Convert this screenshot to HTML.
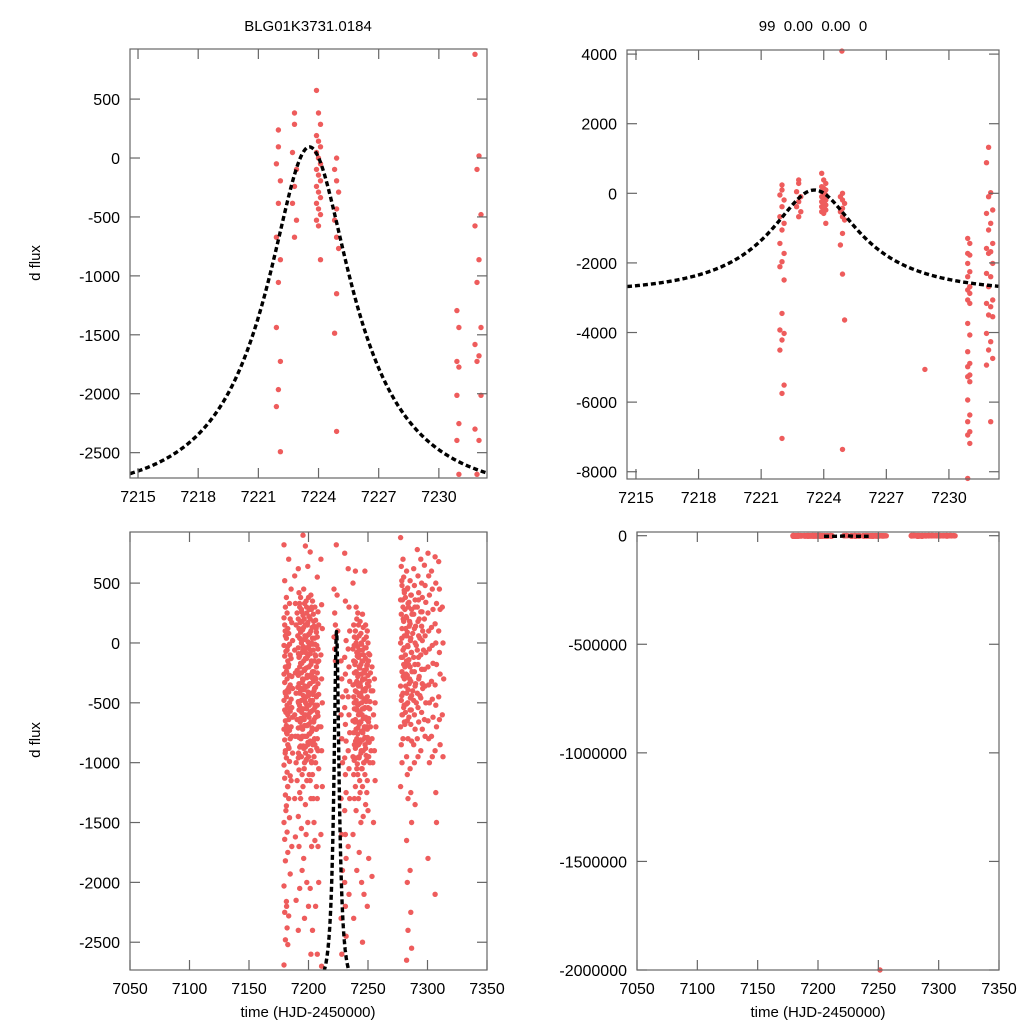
<!DOCTYPE html>
<html><head><meta charset="utf-8"><style>
html,body{margin:0;padding:0;background:#fff;}
svg{display:block;font-family:"Liberation Sans",Arial,sans-serif;}
</style></head><body>
<svg id="chart" width="1024" height="1024" viewBox="0 0 1024 1024" xmlns="http://www.w3.org/2000/svg">
<rect width="1024" height="1024" fill="#fff"/>
<text x="308" y="31" font-size="15" text-anchor="middle">BLG01K3731.0184</text>
<text x="813" y="31" font-size="15" text-anchor="middle" xml:space="preserve">99  0.00  0.00  0</text>
<text transform="translate(40,263) rotate(-90)" font-size="15" text-anchor="middle">d flux</text>
<text transform="translate(40,740) rotate(-90)" font-size="15" text-anchor="middle">d flux</text>
<text x="308" y="1017" font-size="15" text-anchor="middle">time (HJD-2450000)</text>
<text x="818" y="1017" font-size="15" text-anchor="middle">time (HJD-2450000)</text>
</svg>
<script>
// ---- model parameters (Paczynski fit) ----
const modelT0 = 7223.55, modelTE = 6.0, modelU0 = 0.35, modelFs = 1490, modelFb = -4356;

// ---- zoomed-in data (top panels): [time, dflux] ----
const topTimes = [
7222.0,7222.0,7221.9,7222.1,7222.0,7221.9,7222.1,7222.0,7221.9,7222.1,7222.0,7221.9,7222.1,7222.0,7221.9,7222.1,7222.0,7221.9,7222.1,7222.0,7222.0,
7222.8,7222.8,7222.7,7222.9,7222.8,7222.7,7222.9,7222.8,
7223.9,7224.0,7224.1,7223.9,7224.0,7224.1,7223.9,7224.0,7224.1,7223.9,7224.0,7224.1,7223.9,7224.0,7224.1,7223.9,7224.0,7224.1,7223.9,7224.0,7224.1,
7224.9,7224.8,7224.9,7225.0,7224.9,7224.8,7224.9,7225.0,7224.9,7224.8,7224.9,7225.0,7224.9,
7228.85,7224.87,
7230.9,7231.0,7230.9,7231.0,7230.9,7231.0,7230.9,7231.0,7230.9,7231.0,7230.9,7231.0,7230.9,7231.0,7230.9,7231.0,7230.9,7231.0,7230.9,7231.0,7230.9,7231.0,7230.9,7231.0,7230.9,7231.0,7230.9,
7231.9,7231.8,7232.0,7231.9,7232.1,7231.8,7232.0,7231.9,7232.1,7231.8,7232.0,7231.9,7232.1,7231.8,7232.0,7231.9,7232.1,7231.8,7232.0,7231.9,7232.1,7231.8,7232.0,7231.9,7232.1,7231.8,7232.0];
const topFlux = [
238,95,-49,-193,-384,-672,-863,-1055,-1438,-1726,-1965,-2109,-2492,-3450,-3929,-4025,-4216,-4504,-5510,-5749,-7043,
382,286,47,-97,-241,-384,-528,-672,
574,382,286,190,143,95,47,-1,-49,-97,-145,-193,-241,-289,-336,-384,-432,-480,-528,-576,-863,
-1,-97,-193,-289,-432,-528,-672,-768,-1151,-1486,-2320,-3641,-7359,
-5059,4086,
-1295,-1438,-1726,-1774,-2013,-2253,-2396,-2684,-2779,-2875,-3066,-3162,-3737,-4072,-4551,-4887,-4983,-5222,-5270,-5414,-5940,-6371,-6563,-6850,-6946,-7186,-8192,
1321,880,18,-97,-480,-576,-863,-1055,-1438,-1582,-1678,-1726,-2013,-2300,-2396,-2684,-3066,-3162,-3258,-3497,-3545,-4024,-4264,-4503,-4743,-4935,-6563];

// ---- full-season data (bottom panels): column times and flux lists ----
const bottomColTimes = [7180,7182,7184,7186,7189,7192,7194,7196,7198,7200,7202,7204,7206,7208,7211,7222,7224,7228,7231,7234,7238,7240,7242,7244,7246,7248,7250,7252,7254,7256,7278,7280,7283,7286,7289,7292,7295,7298,7301,7304,7307,7310,7313,
7181,7183,7191,7193,7195,7197,7199,7201,7203,7205,7207,7239,7241,7243,7245,7247,7249,7251,7279,7281,7282,7284,7285,7287,7290,7293,7296];
const bottomColFlux = [
[820,520,300,210,150,60,-20,-110,-200,-260,-330,-420,-480,-560,-650,-720,-810,-900,-1020,-1130,-1270,-1500,-1640,-1820,-2030,-2250,-2480,-2690],
[380,250,120,40,-60,-150,-240,-300,-390,-450,-520,-600,-690,-760,-850,-960,-1080,-1200,-1360,-1580,-1750,-2160,-2380,-2520],
[700,330,200,80,-10,-100,-180,-270,-350,-410,-500,-570,-640,-730,-800,-870,-990,-1110,-1300,-1460,-1930,-2280],
[450,170,20,-130,-280,-380,-470,-540,-620,-700,-780,-920,-1150,-1700],
[560,330,150,-60,-250,-420,-600,-780,-1000,-1300,-1620,-2150],
[620,420,300,200,120,40,-40,-120,-200,-270,-340,-420,-490,-560,-640,-710,-790,-870,-960,-1060,-1250,-1450,-1700,-2050,-2400],
[380,280,180,90,0,-80,-170,-250,-330,-400,-480,-550,-630,-700,-780,-860,-950,-1100,-1300,-1550,-1900],
[900,450,330,230,130,30,-60,-150,-230,-310,-390,-470,-550,-620,-690,-780,-880,-1000,-1200,-1800,-2300],
[810,350,250,150,50,-40,-130,-210,-290,-370,-450,-520,-600,-690,-780,-870,-980,-1150,-1350,-1600,-2000],
[640,380,280,170,70,-20,-110,-200,-280,-360,-440,-520,-600,-680,-760,-850,-950,-1100,-1500,-2200],
[760,400,300,200,100,0,-90,-180,-260,-340,-420,-500,-580,-660,-740,-820,-900,-1000,-1150,-1300,-1700,-2050,-2600],
[350,240,140,40,-60,-150,-240,-320,-400,-480,-560,-640,-720,-820,-950,-1100,-1300,-1500,-2400],
[300,190,90,-10,-110,-200,-290,-370,-450,-540,-620,-720,-850,-1000,-1200,-1650,-2200],
[550,260,150,50,-50,-150,-250,-340,-430,-520,-610,-700,-800,-900,-1050,-1300,-1700,-2000,-2600],
[700,320,120,-100,-300,-500,-700,-900,-1200,-1600,-2700],
[450,250,150,50,-50,-150],
[820,400,100],
[-150,-300,-450,-600,-800,-1000,-1300,-1600,-1900,-2300,-2600],
[750,350,20,-120,-260,-400,-540,-680,-820,-960,-1100,-1250,-1400,-1600,-1800,-2000,-2200,-2450],
[620,300,100,-50,-200,-320,-450,-600,-750,-900,-1050,-1300,-1700,-2100],
[500,150,50,-50,-150,-250,-350,-450,-550,-650,-750,-850,-950,-1100,-1300,-1600,-2300],
[600,300,200,100,0,-80,-160,-240,-320,-400,-480,-560,-640,-720,-800,-880,-960,-1050,-1200,-1400,-1900],
[250,150,60,-30,-120,-200,-280,-360,-440,-520,-600,-680,-760,-850,-950,-1100,-1300,-1750],
[180,80,-10,-100,-180,-260,-340,-420,-500,-580,-660,-740,-830,-920,-1050,-1250,-1500,-2000],
[240,130,30,-60,-150,-230,-310,-390,-470,-550,-630,-720,-810,-900,-1000,-1200,-1450,-2100,-2500],
[600,150,50,-40,-130,-220,-300,-380,-460,-540,-620,-700,-790,-880,-980,-1100,-1350],
[100,0,-90,-180,-270,-360,-450,-540,-630,-720,-820,-950,-1150,-1400,-1800,-2200],
[-100,-250,-400,-550,-700,-900,-2000000],
[-200,-400,-600,-800,-1000,-1500,-1950],
[-300,-500,-700,-900,-1150],
[880,640,480,360,240,120,0,-120,-240,-360,-480,-600,-700,-850,-1000,-1200],
[700,550,420,300,180,60,-60,-180,-300,-420,-540,-660,-800],
[600,450,330,210,90,-30,-150,-270,-390,-510,-650,-800,-950,-1100,-1300,-1650,-2000,-2400,-2650],
[520,400,280,160,40,-80,-200,-320,-440,-560,-680,-820,-1050,-1250,-1500,-1900,-2250,-2550],
[620,480,360,240,120,0,-120,-240,-360,-480,-600,-720,-850,-1000,-1350],
[780,560,420,300,180,60,-60,-180,-300,-420,-540,-660,-800,-950],
[700,500,380,260,140,20,-100,-220,-340,-460,-580,-720,-900],
[650,480,340,200,60,-80,-220,-360,-500,-640,-780],
[750,560,400,250,100,-50,-200,-350,-500,-650,-800,-1000,-1800],
[600,450,280,130,-20,-170,-320,-470,-620,-780,-950],
[720,500,330,160,0,-180,-350,-520,-700,-900,-1250,-1500,-2100],
[680,450,280,100,-80,-260,-450,-640,-850],
[300,0,-300,-600,-950],
[100,-70,-240,-410,-580,-750,-920,-1400,-2200],
[-30,-200,-370,-540,-710,-880,-1200],
[250,60,-90,-230,-370,-500,-640,-780,-920,-1150],
[330,170,30,-110,-250,-380,-520,-660,-800,-940],
[260,110,-30,-170,-300,-440,-580,-720,-860],
[200,60,-80,-220,-360,-500,-640,-780,-920,-1050],
[300,150,10,-130,-270,-410,-550,-690,-830,-970],
[220,80,-60,-200,-340,-480,-620,-760,-900],
[280,130,-10,-150,-290,-430,-570,-710,-850,-990],
[180,40,-100,-240,-380,-520,-660,-800],
[120,-20,-160,-300,-440,-580,-720,-880],
[-20,-180,-340,-500,-660,-820,-980],
[40,-110,-260,-410,-560,-710,-860,-1010],
[-60,-210,-360,-510,-660,-810,-960,-1150],
[0,-150,-300,-450,-600,-750,-900,-1050],
[-100,-250,-400,-550,-700,-850,-1000],
[-40,-190,-340,-490,-640,-790,-940,-1250],
[-150,-320,-490,-660,-830,-1000],
[520,360,200,40,-120,-280,-440,-600],
[440,280,120,-40,-200,-360,-520,-680],
[380,220,60,-100,-260,-420,-580],
[460,300,140,-20,-180,-340,-500],
[340,180,20,-140,-300,-460,-620],
[400,240,80,-80,-240,-400,-560],
[300,140,-20,-180,-340,-500],
[360,200,40,-120,-280,-440],
[260,100,-60,-220,-380]];

// ---- tick labels ----
const topXTicks = [7215,7218,7221,7224,7227,7230];
const botXTicks = [7050,7100,7150,7200,7250,7300,7350];
const tlYTicks = [500,0,-500,-1000,-1500,-2000,-2500];
const trYTicks = [4000,2000,0,-2000,-4000,-6000,-8000];
const blYTicks = [500,0,-500,-1000,-1500,-2000,-2500];
const brYTicks = [0,-500000,-1000000,-1500000,-2000000];

const NS = 'http://www.w3.org/2000/svg';
const svg = document.getElementById('chart');
function mk(tag, attrs, parent){const e=document.createElementNS(NS,tag);for(const k in attrs)e.setAttribute(k,attrs[k]);(parent||svg).appendChild(e);return e;}

function model(t){
  const d=(t-modelT0)/modelTE; const u=Math.sqrt(modelU0*modelU0+d*d);
  const A=(u*u+2)/(u*Math.sqrt(u*u+4)); return modelFs*A+modelFb;
}

const panels = [
 {name:'top-left',  px0:130,px1:487,py0:49,py1:478, t0:7214.6,t1:7232.4, v0:925,  v1:-2715,  xt:topXTicks, yt:tlYTicks, data:'top', step:0.05},
 {name:'top-right', px0:627,px1:999,py0:50,py1:479, t0:7214.57,t1:7232.4, v0:4118, v1:-8209, xt:topXTicks, yt:trYTicks, data:'top', step:0.05},
 {name:'bottom-left', px0:130,px1:487,py0:532,py1:970, t0:7050,t1:7350, v0:927, v1:-2732, xt:botXTicks, yt:blYTicks, data:'bot', step:0.02},
 {name:'bottom-right',px0:637,px1:999,py0:532,py1:970, t0:7050,t1:7350, v0:17000, v1:-2000000, xt:botXTicks, yt:brYTicks, data:'bot', step:0.1}
];

panels.forEach((p,pi)=>{
  const X=t=>p.px0+(t-p.t0)/(p.t1-p.t0)*(p.px1-p.px0);
  const Y=v=>p.py0+(p.v0-v)/(p.v0-p.v1)*(p.py1-p.py0);
  const g=mk('g',{});
  
  
  const cp=mk('clipPath',{id:'clip'+pi},g);
  mk('rect',{x:p.px0,y:p.py0,width:p.px1-p.px0,height:p.py1-p.py0},cp);
  const pts=mk('g',{fill:'#ee5c5c'},g);
  
  
  const drawPt=(t,v)=>{
    if(v>p.v0+0.004*(p.v0-p.v1)||v<p.v1-0.004*(p.v0-p.v1)||t<p.t0||t>p.t1)return;
    const c=mk('circle',{cx:X(t).toFixed(1),cy:Y(v).toFixed(1),r:2.7},pts);
    
    
  };
  if(p.data==='top'){ topTimes.forEach((t,i)=>drawPt(t,topFlux[i])); }
  else { bottomColTimes.forEach((t,ci)=>bottomColFlux[ci].forEach((v,i)=>drawPt(t+((i%3)-1)*0.6,v))); }
  let d='';
  const ts=Math.max(p.t0,7205), te=Math.min(p.t1,7242);
  for(let t=(p.data==='top'?p.t0:ts);t<=(p.data==='top'?p.t1:te)+1e-9;t+=p.step){
    let v=model(t); const y=Math.max(p.py0-50,Math.min(p.py1+50,Y(v)));
    d+=(d?'L':'M')+X(t).toFixed(2)+' '+y.toFixed(2);
  }
  const path=mk('path',{d:d,fill:'none',stroke:'#000','stroke-width':3.4,'stroke-dasharray':'5 3','clip-path':'url(#clip'+pi+')'},g);
  
  
  const fr=mk('rect',{x:p.px0,y:p.py0,width:p.px1-p.px0,height:p.py1-p.py0,fill:'none',stroke:'#666','stroke-width':1.2},g);
  
  
  p.xt.forEach(t=>{
    const x=X(t);
    mk('line',{x1:x,x2:x,y1:p.py1,y2:p.py1-10,stroke:'#666','stroke-width':1.2},g);
    mk('line',{x1:x,x2:x,y1:p.py0,y2:p.py0+10,stroke:'#666','stroke-width':1.2},g);
    const tx=mk('text',{x:x,y:p.py1+24,'font-size':16,'text-anchor':'middle'},g);
    tx.textContent=t;
    
    
  });
  p.yt.forEach(v=>{
    const y=Y(v);
    mk('line',{x1:p.px0,x2:p.px0+10,y1:y,y2:y,stroke:'#666','stroke-width':1.2},g);
    mk('line',{x1:p.px1,x2:p.px1-10,y1:y,y2:y,stroke:'#666','stroke-width':1.2},g);
    const ty=mk('text',{x:p.px0-10,y:y+6,'font-size':16,'text-anchor':'end'},g);
    ty.textContent=v;
    
    
  });
});
</script>
</body></html>
